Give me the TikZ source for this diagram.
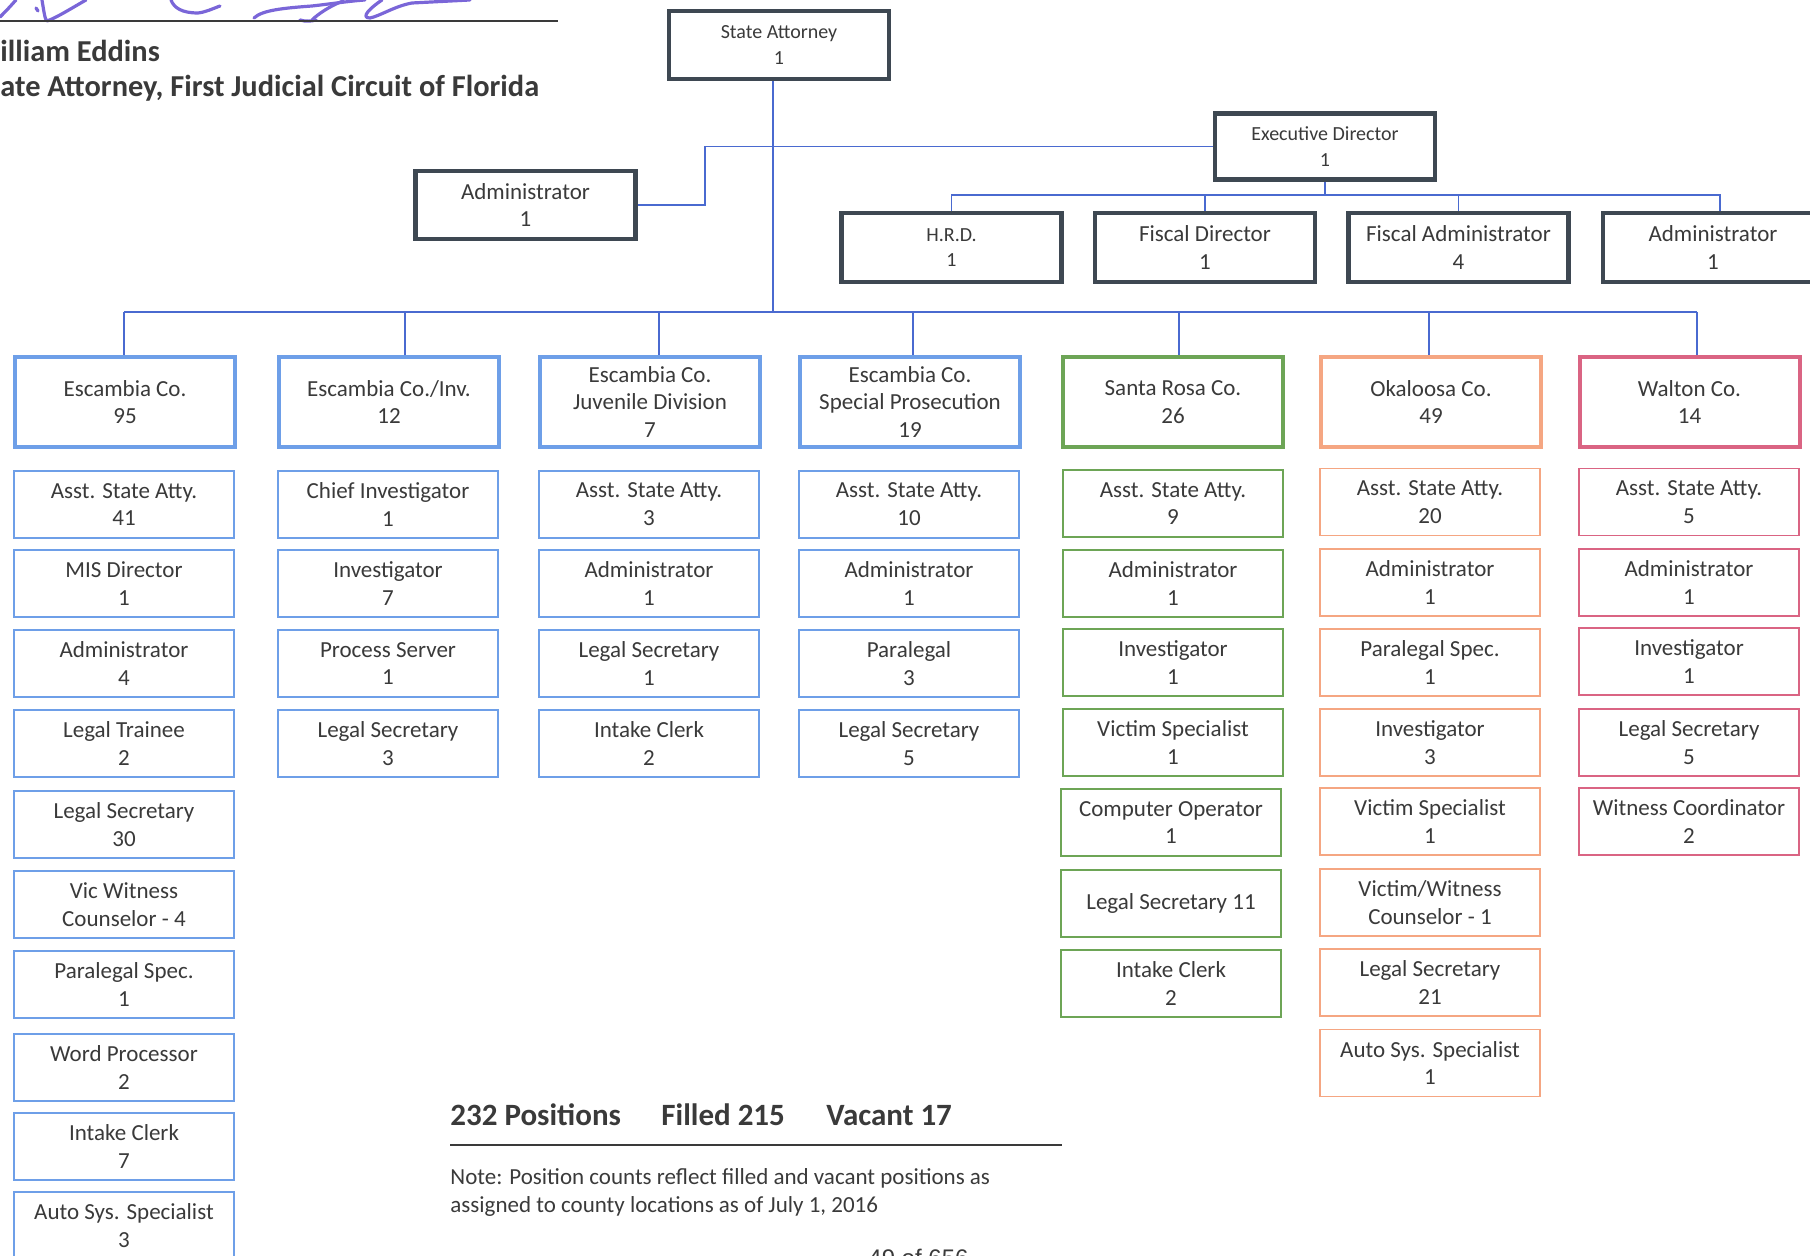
\documentclass[tikz,border=0pt]{standalone}
\usepackage{fontspec}
\setmainfont{Carlito}
\newfontfamily\pagefont{Liberation Sans}

\definecolor{ink}{HTML}{3A3A3A}
\definecolor{boxgray}{HTML}{3E4852}
\definecolor{wire}{HTML}{4A6AD0}
\definecolor{cblue}{HTML}{6E9FE8}
\definecolor{cgreen}{HTML}{6DA556}
\definecolor{corange}{HTML}{F5A682}
\definecolor{cpink}{HTML}{DA6483}
\definecolor{sigink}{HTML}{7A66D8}

\tikzset{
  txt/.style={text=ink, align=center, inner sep=0pt, font=\fontsize{11.5}{13.9}\selectfont},
  small/.style={font=\fontsize{10}{12.6}\selectfont},
  exec/.style={txt, draw=boxgray, fill=white, line width=2.2pt, minimum width=110pt, minimum height=34pt},
  county/.style={txt, draw=#1, fill=white, line width=2pt, minimum width=110pt, minimum height=45pt},
  post/.style={txt, draw=#1, fill=white, line width=0.9pt, minimum width=110pt, minimum height=33.5pt},
  conn/.style={draw=wire, line width=0.7pt},
  headname/.style={text=ink, inner sep=0pt, font=\fontsize{15.2}{18}\selectfont\bfseries},
  total/.style={text=ink, inner sep=0pt, font=\fontsize{15.5}{18}\selectfont\bfseries},
  notetext/.style={text=ink, inner sep=0pt, font=\fontsize{11.5}{14}\selectfont},
  sig/.style={draw=sigink, line width=1.6pt, line cap=round, line join=round},
}

\begin{document}
\begin{tikzpicture}[x=0.5pt, y=-0.5pt]
\useasboundingbox (0,0) rectangle (1810,1256);
\clip (0,0) rectangle (1810,1256);

% signature and signature rule
\draw[sig] (0,17) .. controls (7,10) .. (16,0);
\draw[sig] (36,8) -- (38,11);
\draw[sig] (42,0) .. controls (44,12) and (45,20) .. (47,21) .. controls (56,18) and (72,8) .. (86,0);
\draw[sig] (171,0) .. controls (174,8) and (182,13) .. (198,13) .. controls (206,12) and (212,9) .. (220,6);
\draw[sig] (254,18) .. controls (262,10) and (285,8) .. (312,6) .. controls (330,4) and (350,1) .. (365,0);
\draw[sig] (312,20) .. controls (318,14) and (330,6) .. (343,1);
\draw[sig] (300,20) .. controls (306,22) and (312,21) .. (316,20);
\draw[sig] (382,0) .. controls (370,8) and (360,18) .. (370,18) .. controls (380,16) and (395,6) .. (412,3) -- (470,0);
\coordinate (ruleA) at (0,21);
\coordinate (ruleB) at (558,21);
\draw[ink, line width=1pt] (ruleA) -- (ruleB);

\node[headname, anchor=base west] (nm1) at (0,62) {illiam Eddins};
\node[headname, anchor=base west] (nm2) at (0,97) {ate Attorney, First Judicial Circuit of Florida};

% executive level
\node[exec, small] (sa) at (779,45) {State Attorney\\1};
\node[exec, small, minimum height=33pt] (ed) at (1325,146.5) {Executive Director\\1};
\node[exec] (adm) at (525.5,205) {Administrator\\1};
\node[exec, small, minimum height=34.5pt] (hrd) at (951.5,247.5) {H.R.D.\\1};
\node[exec, minimum height=34.5pt] (fd) at (1205,247.5) {Fiscal Director\\1};
\node[exec, minimum height=34.5pt] (fa) at (1458.5,247.5) {Fiscal Administrator\\4};
\node[exec, minimum height=34.5pt] (ad2) at (1713,247.5) {Administrator\\1};

% connectors of the executive level
\coordinate (trunk) at (773,312);
\coordinate (elbow) at (705,148);
\coordinate (ebus) at (1325,195);
\coordinate (dAd2) at (1720,195);
\draw[conn] (sa.south -| trunk) -- (trunk);
\draw[conn] (ed.west) -- (ed.west -| elbow) -- (elbow |- adm.east) -- (adm.east);
\draw[conn] (ed.south) -- (ebus);
\draw[conn] (hrd.north) -- (hrd.north |- ebus) -- (dAd2) -- (dAd2 |- ad2.north);
\draw[conn] (fd.north) -- (fd.north |- ebus);
\draw[conn] (fa.north) -- (fa.north |- ebus);

% county level
\node[county=cblue] (esc) at (125,402) {Escambia Co.\\95};
\node[county=cblue] (inv) at (389,402) {Escambia Co./Inv.\\12};
\node[county=cblue] (juv) at (650,402) {Escambia Co.\\Juvenile Division\\7};
\node[county=cblue] (spc) at (910,402) {Escambia Co.\\Special Prosecution\\19};
\node[county=cgreen] (sr) at (1173,402) {Santa Rosa Co.\\26};
\node[county=corange] (ok) at (1431,402) {Okaloosa Co.\\49};
\node[county=cpink] (wal) at (1689.5,402) {Walton Co.\\14};

\coordinate (dEsc) at (124,312);
\coordinate (dInv) at (405,312);
\coordinate (dJuv) at (659,312);
\coordinate (dSpc) at (913,312);
\coordinate (dSr) at (1179,312);
\coordinate (dOk) at (1429,312);
\coordinate (dWal) at (1697,312);
\draw[conn] (dEsc) -- (dWal);
\draw[conn] (dEsc) -- (dEsc |- esc.north);
\draw[conn] (dInv) -- (dInv |- inv.north);
\draw[conn] (dJuv) -- (dJuv |- juv.north);
\draw[conn] (dSpc) -- (dSpc |- spc.north);
\draw[conn] (dSr) -- (dSr |- sr.north);
\draw[conn] (dOk) -- (dOk |- ok.north);
\draw[conn] (dWal) -- (dWal |- wal.north);

% Escambia Co.
\node[post=cblue] (e1) at (124,504.5) {Asst. State Atty.\\41};
\node[post=cblue] (e2) at (124,583.5) {MIS Director\\1};
\node[post=cblue] (e3) at (124,663.5) {Administrator\\4};
\node[post=cblue] (e4) at (124,743.5) {Legal Trainee\\2};
\node[post=cblue] (e5) at (124,824.5) {Legal Secretary\\30};
\node[post=cblue] (e6) at (124,904.5) {Vic Witness\\Counselor - 4};
\node[post=cblue] (e7) at (124,984.5) {Paralegal Spec.\\1};
\node[post=cblue] (e8) at (124,1067.5) {Word Processor\\2};
\node[post=cblue] (e9) at (124,1146.5) {Intake Clerk\\7};
\node[post=cblue] (e10) at (124,1225.5) {Auto Sys. Specialist\\3};

% Escambia Co./Inv.
\node[post=cblue] (i1) at (388,504.5) {Chief Investigator\\1};
\node[post=cblue] (i2) at (388,583.5) {Investigator\\7};
\node[post=cblue] (i3) at (388,663.5) {Process Server\\1};
\node[post=cblue] (i4) at (388,743.5) {Legal Secretary\\3};

% Juvenile Division
\node[post=cblue] (j1) at (649,504.5) {Asst. State Atty.\\3};
\node[post=cblue] (j2) at (649,583.5) {Administrator\\1};
\node[post=cblue] (j3) at (649,663.5) {Legal Secretary\\1};
\node[post=cblue] (j4) at (649,743.5) {Intake Clerk\\2};

% Special Prosecution
\node[post=cblue] (p1) at (909,504.5) {Asst. State Atty.\\10};
\node[post=cblue] (p2) at (909,583.5) {Administrator\\1};
\node[post=cblue] (p3) at (909,663.5) {Paralegal\\3};
\node[post=cblue] (p4) at (909,743.5) {Legal Secretary\\5};

% Santa Rosa Co.
\node[post=cgreen] (s1) at (1173,503.5) {Asst. State Atty.\\9};
\node[post=cgreen] (s2) at (1173,583.5) {Administrator\\1};
\node[post=cgreen] (s3) at (1173,662.5) {Investigator\\1};
\node[post=cgreen] (s4) at (1173,742.5) {Victim Specialist\\1};
\node[post=cgreen] (s5) at (1171,822.5) {Computer Operator\\1};
\node[post=cgreen] (s6) at (1171,903.5) {Legal Secretary 11};
\node[post=cgreen] (s7) at (1171,983.5) {Intake Clerk\\2};

% Okaloosa Co.
\node[post=corange] (o1) at (1430,502) {Asst. State Atty.\\20};
\node[post=corange] (o2) at (1430,582.5) {Administrator\\1};
\node[post=corange] (o3) at (1430,662.5) {Paralegal Spec.\\1};
\node[post=corange] (o4) at (1430,742.5) {Investigator\\3};
\node[post=corange] (o5) at (1430,821.5) {Victim Specialist\\1};
\node[post=corange] (o6) at (1430,902.5) {Victim/Witness\\Counselor - 1};
\node[post=corange] (o7) at (1430,982.5) {Legal Secretary\\21};
\node[post=corange] (o8) at (1430,1063) {Auto Sys. Specialist\\1};

% Walton Co.
\node[post=cpink] (w1) at (1689,502) {Asst. State Atty.\\5};
\node[post=cpink] (w2) at (1689,582.5) {Administrator\\1};
\node[post=cpink] (w3) at (1689,661.5) {Investigator\\1};
\node[post=cpink] (w4) at (1689,742.5) {Legal Secretary\\5};
\node[post=cpink] (w5) at (1689,821.5) {Witness Coordinator\\2};

% totals and note
\node[total, anchor=base west] (tot) at (450,1125) {232 Positions};
\node[total, anchor=base west] (fil) at (661,1125) {Filled 215};
\node[total, anchor=base west] (vac) at (826,1125) {Vacant 17};
\coordinate (sepA) at (450,1145);
\coordinate (sepB) at (1062,1145);
\draw[ink, line width=0.9pt] (sepA) -- (sepB);
\node[notetext, anchor=base west] (note1) at (450,1184) {Note: Position counts reflect filled and vacant positions as};
\node[notetext, anchor=base west] (note2) at (450,1212) {assigned to county locations as of July 1, 2016};
\node[text=ink, inner sep=0pt, anchor=base west, font=\pagefont\fontsize{12}{14}\selectfont] (pg) at (868,1266) {49 of 656};
\end{tikzpicture}
\end{document}
